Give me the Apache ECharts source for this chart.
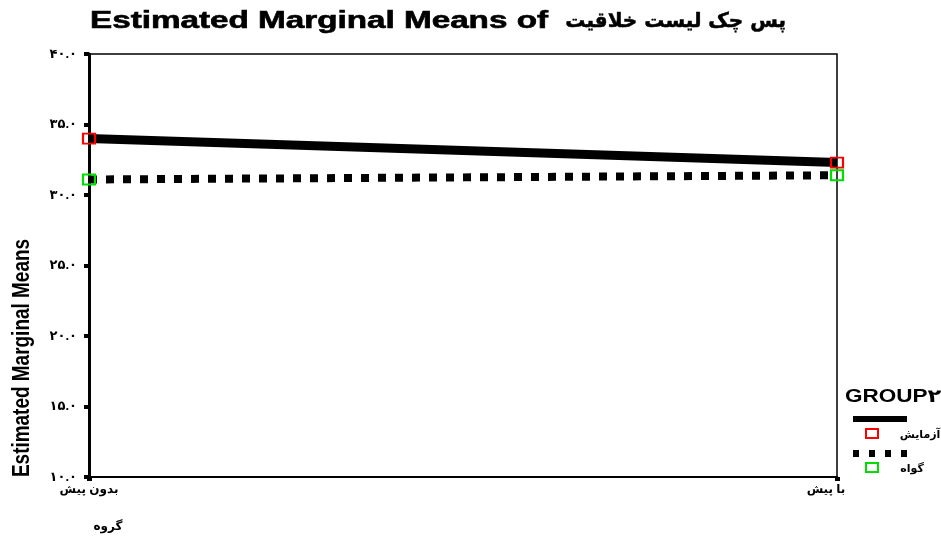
<!DOCTYPE html>
<html><head><meta charset="utf-8">
<script src="https://cdn.jsdelivr.net/npm/echarts@6/dist/echarts.min.js"></script>
<style>html,body{margin:0;padding:0;background:#fff}#c{width:941px;height:537px}</style>
</head><body><div id="c"></div>
<script>
const titleLatin = 'Estimated Marginal Means of';
const titlePersian = 'پس چک لیست خلاقیت';
const categories = ['بدون پیش', 'با پیش'];
const seriesNames = ['آزمایش', 'گواه'];
const valuesExperiment = [34.0, 32.3];
const valuesControl = [31.1, 31.4];
const yTicks = [10, 15, 20, 25, 30, 35, 40];
const yAxisTitle = 'Estimated Marginal Means';
const xAxisTitle = 'گروه';
const legendTitle = 'GROUP۲';

const toPersian = s => String(s).replace(/\d/g, d => '۰۱۲۳۴۵۶۷۸۹'[d]);
const chart = echarts.init(document.getElementById('c'));
const F = '"Liberation Sans", Arial, "DejaVu Sans", sans-serif';

chart.setOption({
  animation: false,
  backgroundColor: '#fff',
  grid: {left: 89, right: 104, top: 54, bottom: 60, show: true, borderColor: '#000', borderWidth: 1.5, backgroundColor: 'transparent'},
  xAxis: {
    type: 'category', boundaryGap: false,
    data: [
      {value: categories[0]},
      {value: categories[1], textStyle: {padding: [0, 22, 0, 0]}}
    ],
    axisLine: {lineStyle: {color: '#000', width: 2}},
    axisTick: {show: true, length: 4, lineStyle: {color: '#000', width: 5}},
    axisLabel: {color: '#000', fontFamily: F, fontWeight: 'bold', fontSize: 12, margin: 7},
    splitLine: {show: false}
  },
  yAxis: {
    type: 'value', min: yTicks[0], max: yTicks[yTicks.length - 1], interval: 5,
    axisLine: {show: true, lineStyle: {color: '#000', width: 3}},
    axisTick: {show: true, length: 5, lineStyle: {color: '#000', width: 4}},
    axisLabel: {color: '#000', fontFamily: F, fontWeight: 'bold', fontSize: 13, margin: 12,
      formatter: v => toPersian(v.toFixed(1))},
    splitLine: {show: false}
  },
  series: [
    {
      name: seriesNames[0], type: 'line', data: valuesExperiment,
      symbol: 'rect', symbolSize: [12, 10], showSymbol: true,
      lineStyle: {color: '#000', width: 9, type: 'solid'},
      itemStyle: {color: 'rgba(0,0,0,0)', borderColor: '#ff0000', borderWidth: 2},
      z: 3
    },
    {
      name: seriesNames[1], type: 'line', data: valuesControl,
      symbol: 'rect', symbolSize: [12, 10], showSymbol: true,
      lineStyle: {color: '#000', width: 8, type: [8, 9], cap: 'butt'},
      itemStyle: {color: 'rgba(0,0,0,0)', borderColor: '#00dd00', borderWidth: 2},
      z: 3
    }
  ],
  graphic: [
    {type: 'text', x: 90, y: 22, scaleX: 1.445,
      style: {text: titleLatin, fontFamily: F, fontWeight: 'bold', fontSize: 23, fill: '#000', stroke: '#000', lineWidth: 0.6, align: 'left', verticalAlign: 'middle'}},
    {type: 'text', x: 786, y: 22,
      style: {text: titlePersian, fontFamily: '"DejaVu Sans", sans-serif', fontWeight: 'bold', fontSize: 20, fill: '#000', stroke: '#000', lineWidth: 0.5, align: 'right', verticalAlign: 'middle'}},
    {type: 'text', x: 22, y: 358, rotation: Math.PI / 2, scaleX: 0.79,
      style: {text: yAxisTitle, fontFamily: F, fontWeight: 'bold', fontSize: 24, fill: '#000', align: 'center', verticalAlign: 'middle'}},
    {type: 'text', x: 108, y: 527,
      style: {text: xAxisTitle, fontFamily: F, fontWeight: 'bold', fontSize: 12, fill: '#000', align: 'center', verticalAlign: 'middle'}},
    {type: 'text', x: 845, y: 397, scaleX: 1.25,
      style: {text: legendTitle, fontFamily: F, fontWeight: 'bold', fontSize: 18, fill: '#000', align: 'left', verticalAlign: 'middle'}},
    {type: 'rect', shape: {x: 853, y: 416, width: 54, height: 6}, style: {fill: '#000'}},
    {type: 'rect', shape: {x: 866, y: 429, width: 12, height: 9}, style: {fill: 'none', stroke: '#ff0000', lineWidth: 2}},
    {type: 'text', x: 920, y: 435,
      style: {text: seriesNames[0], fontFamily: F, fontWeight: 'bold', fontSize: 11, fill: '#000', align: 'center', verticalAlign: 'middle'}},
    {type: 'line', shape: {x1: 853, y1: 453.5, x2: 907, y2: 453.5}, style: {stroke: '#000', lineWidth: 7, lineDash: [6, 10]}},
    {type: 'rect', shape: {x: 866, y: 463, width: 12, height: 9}, style: {fill: 'none', stroke: '#00dd00', lineWidth: 2}},
    {type: 'text', x: 912, y: 469,
      style: {text: seriesNames[1], fontFamily: F, fontWeight: 'bold', fontSize: 11, fill: '#000', align: 'center', verticalAlign: 'middle'}}
  ]
});
</script></body></html>
